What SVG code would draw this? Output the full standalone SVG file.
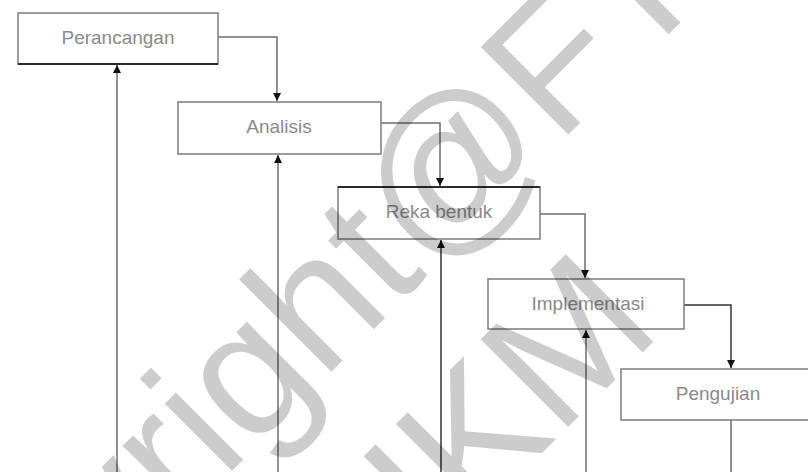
<svg xmlns="http://www.w3.org/2000/svg" width="808" height="472" viewBox="0 0 808 472">
  <style>
    .box { fill: #ffffff; stroke: #7c7c7c; stroke-width: 1.5; }
    .edge { fill: none; stroke: #2a2a2a; stroke-width: 2; }
    .lbl { font-family: "Liberation Sans", Arial, sans-serif; font-size: 19px; fill: #8a8a8a; text-anchor: middle; }
    .conn { fill: none; stroke: #6e6e6e; stroke-width: 1.5; }
    .dark { stroke: #333333; }
    .wm { font-family: "Liberation Sans", Arial, sans-serif; font-size: 180px; fill: #000000; fill-opacity: 0.2; }
  </style>
  <defs>
    <marker id="arrow" viewBox="0 0 10 10" refX="10" refY="5" markerUnits="userSpaceOnUse" markerWidth="9" markerHeight="8" orient="auto">
      <path d="M0,0 L10,5 L0,10 z" fill="#111111"/>
    </marker>
  </defs>
  <rect width="808" height="472" fill="#ffffff"/>

  <g id="connectors">
    <path class="conn" d="M218,37 H277 V101" marker-end="url(#arrow)"/>
    <path class="conn" d="M381,123 H440 V186" marker-end="url(#arrow)"/>
    <path class="conn" d="M540,214 H585 V278" marker-end="url(#arrow)"/>
    <path class="conn dark" d="M684,305 H731 V368" marker-end="url(#arrow)"/>
    <path class="conn" d="M731,420 V472"/>
    <path class="conn" d="M117,472 V65" marker-end="url(#arrow)"/>
    <path class="conn" d="M278,472 V155" marker-end="url(#arrow)"/>
    <path class="conn dark" d="M441,472 V240" marker-end="url(#arrow)"/>
    <path class="conn" d="M586,472 V330" marker-end="url(#arrow)"/>
  </g>

  <g id="perancangan">
    <rect class="box" x="18" y="13" width="200" height="51"/>
    <path class="edge" d="M18,64 H218"/>
    <text class="lbl" x="118" y="44">Perancangan</text>
  </g>
  <g id="analisis">
    <rect class="box" x="178" y="102" width="203" height="52"/>
    <text class="lbl" x="279" y="133">Analisis</text>
  </g>
  <g id="rekabentuk">
    <rect class="box" x="338" y="187" width="202" height="52"/>
    <path class="edge" d="M338,187 H540"/>
    <text class="lbl" x="439" y="218">Reka bentuk</text>
  </g>
  <g id="implementasi">
    <rect class="box" x="488" y="279" width="196" height="50"/>
    <text class="lbl" x="588" y="310">Implementasi</text>
  </g>
  <g id="pengujian">
    <rect class="box" x="621" y="369" width="200" height="51"/>
    <text class="lbl" x="718" y="400">Pengujian</text>
  </g>

  <g id="watermark">
    <text class="wm" transform="translate(-116,819) rotate(-45)" x="0" y="0">Copyright@FTSM</text>
    <text class="wm" transform="translate(381,614) rotate(-45)" x="0" y="0">UKM</text>
  </g>
</svg>
